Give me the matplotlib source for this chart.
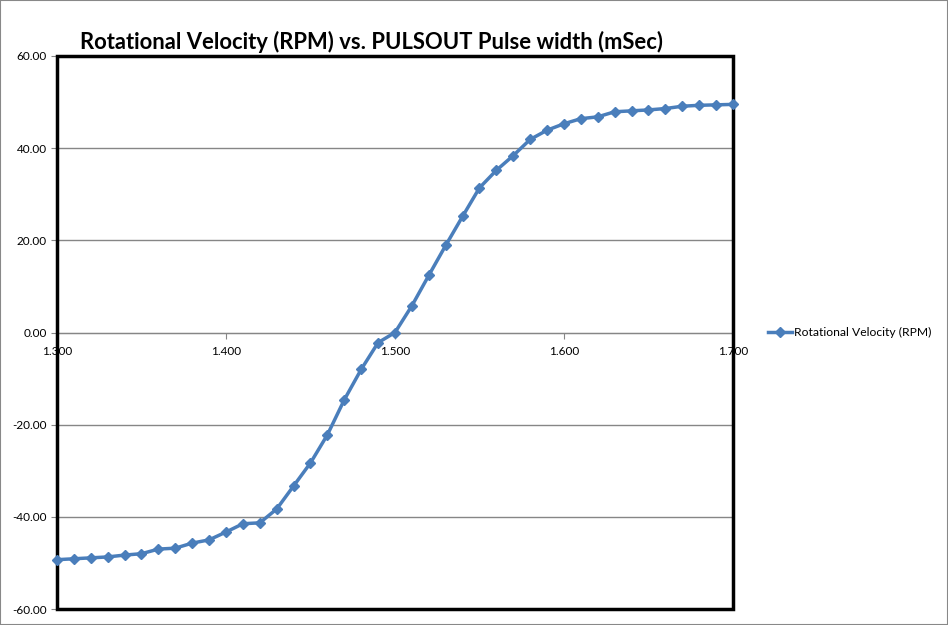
import matplotlib
matplotlib.use("Agg")
import matplotlib.pyplot as plt
from matplotlib.patches import Rectangle
from matplotlib.ticker import FormatStrFormatter, MultipleLocator

# pulse width (mSec) and measured rotational velocity (RPM)
pulse_width = [1.30, 1.31, 1.32, 1.33, 1.34, 1.35, 1.36, 1.37, 1.38, 1.39,
               1.40, 1.41, 1.42, 1.43, 1.44, 1.45, 1.46, 1.47, 1.48, 1.49,
               1.50, 1.51, 1.52, 1.53, 1.54, 1.55, 1.56, 1.57, 1.58, 1.59,
               1.60, 1.61, 1.62, 1.63, 1.64, 1.65, 1.66, 1.67, 1.68, 1.69,
               1.70]
rpm = [-49.3, -49.1, -48.9, -48.7, -48.3, -48.0, -47.0, -46.8, -45.7, -45.0,
       -43.3, -41.5, -41.3, -38.3, -33.3, -28.3, -22.2, -14.6, -8.0, -2.2,
       0.0, 5.8, 12.4, 18.9, 25.2, 31.4, 35.2, 38.4, 41.9, 43.9,
       45.3, 46.4, 46.8, 47.9, 48.1, 48.3, 48.6, 49.1, 49.3, 49.4,
       49.5]
series_name = "Rotational Velocity (RPM)"
title = "Rotational Velocity (RPM) vs. PULSOUT Pulse width (mSec)"

plt.rcParams['font.family'] = ['Lato', 'DejaVu Sans']

fig = plt.figure(figsize=(9.48, 6.25), dpi=100)
ax = fig.add_axes([57/948, 1 - 609/625, (733-57)/948, (609-56)/625])

ax.plot(pulse_width, rpm, color='#4A7EBB', lw=2.5, marker='D', ms=5,
        markeredgecolor='#4A7EBB', label=series_name, clip_on=False, zorder=5)

ax.set_xlim(1.3, 1.7)
ax.set_ylim(-60, 60)
ax.yaxis.set_major_locator(MultipleLocator(20))
ax.xaxis.set_major_locator(MultipleLocator(0.1))
ax.yaxis.set_major_formatter(FormatStrFormatter('%.2f'))
ax.xaxis.set_major_formatter(FormatStrFormatter('%.3f'))
ax.grid(axis='y', color='#868686', lw=1)
ax.set_axisbelow(True)

# x axis crosses at zero
for s in ['top', 'right', 'left']:
    ax.spines[s].set_visible(False)
ax.spines['bottom'].set_position(('data', 0))
ax.spines['bottom'].set_color('#868686')
ax.tick_params(axis='x', direction='out', length=4, color='#868686', labelsize=8.5, pad=6)
ax.tick_params(axis='y', direction='out', length=4, color='#868686', labelsize=8.5)

# thick plot-area frame
ax.add_patch(Rectangle((0, 0), 1, 1, transform=ax.transAxes, fill=False,
                       ec='black', lw=2.5, clip_on=False, zorder=4))

fig.text(80/948, 1 - 42/625, title, fontsize=15.8, fontweight='bold', va='center', ha='left')

ax.legend(loc='center left', bbox_to_anchor=(1.035, 0.5), frameon=False,
          fontsize=8.7, handlelength=2.0, handletextpad=0.2)

fig.add_artist(Rectangle((0, 0), 1, 1, transform=fig.transFigure, fill=False,
                         ec='#888888', lw=1.5))

fig.savefig('out.png', dpi=100)
